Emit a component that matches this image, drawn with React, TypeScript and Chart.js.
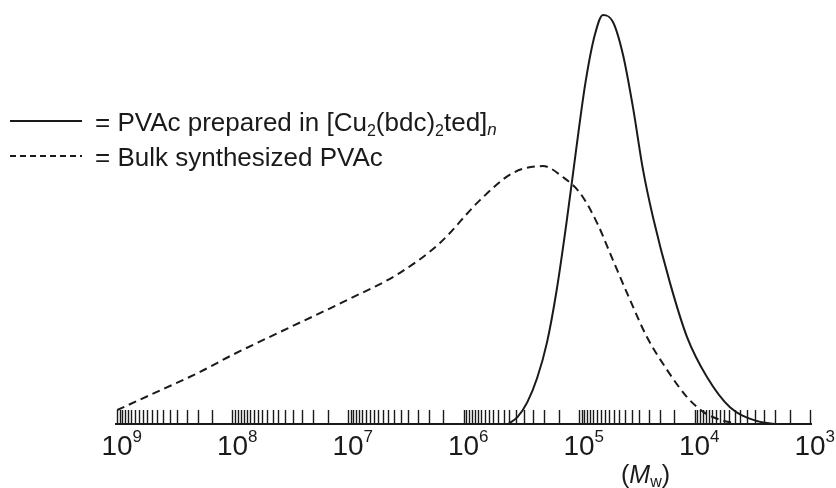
import React, { useEffect, useRef } from "react";
import { Chart, registerables } from "chart.js";

Chart.register(...registerables);

// Molecular weight (x) and normalized detector response (y)
const solidM = [4.1e5, 3.4e5, 2.8e5, 2.3e5, 1.89e5, 1.56e5, 1.28e5, 1.06e5, 8.8e4, 7.3e4, 6.2e4, 5.08e4, 4.16e4, 3.4e4, 2.79e4, 2.29e4, 1.63e4, 1.16e4, 7.8e3, 4.93e3, 2.88e3, 2.01e3];
const solidY = [0.0, 0.017, 0.052, 0.11, 0.195, 0.319, 0.481, 0.652, 0.812, 0.926, 0.974, 0.957, 0.879, 0.752, 0.605, 0.493, 0.336, 0.207, 0.112, 0.04, 0.007, 0.0];

const dashedM = [1e9, 5.18e8, 1.91e8, 1.01e8, 3.88e7, 1.02e7, 3.55e6, 1.6e6, 7.2e5, 3.72e5, 2.05e5, 1.38e5, 9.8e4, 6.98e4, 5.08e4, 3.61e4, 2.58e4, 1.73e4, 1.16e4, 8.4e3, 6.0e3, 4.47e3];
const dashedY = [0.033, 0.069, 0.124, 0.164, 0.219, 0.295, 0.36, 0.431, 0.533, 0.598, 0.614, 0.588, 0.55, 0.479, 0.39, 0.295, 0.207, 0.129, 0.064, 0.029, 0.01, 0.002];

const decadeExponents = [9, 8, 7, 6, 5, 4, 3];
const minorMultipliers = [1.5, 2, 2.5, 3, 3.5, 4, 4.5, 5, 5.5, 6, 6.5, 7, 7.5, 8, 8.5, 9, 9.5];

const legendSolid = "PVAc prepared in [Cu₂(bdc)₂ted]ₙ";
const legendDashed = "Bulk synthesized PVAc";

const FONT = "'Liberation Sans', Arial, sans-serif";
const INK = "#1a1a1a";

type Seg = { t: string; size: number; dy?: number; italic?: boolean };

function drawRich(ctx: CanvasRenderingContext2D, x: number, y: number, segs: Seg[]) {
  let cx = x;
  for (const s of segs) {
    ctx.font = `${s.italic ? "italic " : ""}${s.size}px ${FONT}`;
    ctx.fillText(s.t, cx, y + (s.dy || 0));
    cx += ctx.measureText(s.t).width;
  }
  return cx;
}

const overlay = {
  id: "overlay",
  afterDraw(chart: any) {
    const ctx: CanvasRenderingContext2D = chart.ctx;
    const xs = chart.scales.x;
    const area = chart.chartArea;
    const yb = area.bottom;
    ctx.save();
    ctx.strokeStyle = INK;
    ctx.fillStyle = INK;
    // axis line
    ctx.lineWidth = 2;
    ctx.beginPath();
    ctx.moveTo(area.left - 2, yb);
    ctx.lineTo(area.right + 2, yb);
    ctx.stroke();
    // ticks
    ctx.lineWidth = 1.4;
    const tickVals: number[] = [];
    for (const e of decadeExponents) {
      tickVals.push(Math.pow(10, e));
      if (e < 9) for (const m of minorMultipliers) tickVals.push(m * Math.pow(10, e));
    }
    ctx.beginPath();
    for (const v of tickVals) {
      const px = Math.round(xs.getPixelForValue(v)) + 0.5;
      ctx.moveTo(px, yb);
      ctx.lineTo(px, yb - 14);
    }
    ctx.stroke();
    // tick labels
    ctx.textBaseline = "alphabetic";
    for (const e of decadeExponents) {
      const px = xs.getPixelForValue(Math.pow(10, e));
      ctx.font = `28px ${FONT}`;
      const w = ctx.measureText("10").width;
      ctx.fillText("10", px - w / 2, 455);
      ctx.font = `17px ${FONT}`;
      ctx.fillText(String(e), px + w / 2, 442);
    }
    // x title (Mw)
    drawRich(ctx, 621, 483, [
      { t: "(", size: 25 },
      { t: "M", size: 25, italic: true },
      { t: "w", size: 16, dy: 4 },
      { t: ")", size: 25 },
    ]);
    // legend
    ctx.lineWidth = 2;
    ctx.beginPath();
    ctx.moveTo(10, 121);
    ctx.lineTo(82, 121);
    ctx.stroke();
    ctx.setLineDash([6, 4]);
    ctx.beginPath();
    ctx.moveTo(10, 156);
    ctx.lineTo(82, 156);
    ctx.stroke();
    ctx.setLineDash([]);
    const parts = legendSolid.split(/([₂ₙ])/);
    const segs: Seg[] = [{ t: "= ", size: 26 }];
    for (const p of parts) {
      if (!p) continue;
      if (p === "₂") segs.push({ t: "2", size: 16, dy: 5 });
      else if (p === "ₙ") segs.push({ t: "n", size: 17, dy: 4, italic: true });
      else segs.push({ t: p, size: 26 });
    }
    drawRich(ctx, 95, 131, segs);
    drawRich(ctx, 95, 166, [{ t: "= " + legendDashed, size: 26 }]);
    ctx.restore();
  },
};

export default function App() {
  const ref = useRef<HTMLCanvasElement | null>(null);
  useEffect(() => {
    if (!ref.current) return;
    const chart = new Chart(ref.current, {
      type: "line",
      data: {
        datasets: [
          {
            label: legendSolid,
            data: solidM.map((m, i) => ({ x: m, y: solidY[i] })),
            borderColor: INK,
            borderWidth: 2,
            pointRadius: 0,
            cubicInterpolationMode: "monotone",
            fill: false,
          },
          {
            label: legendDashed,
            data: dashedM.map((m, i) => ({ x: m, y: dashedY[i] })),
            borderColor: INK,
            borderWidth: 2,
            borderDash: [8, 5],
            pointRadius: 0,
            cubicInterpolationMode: "monotone",
            fill: false,
          },
        ],
      },
      options: {
        responsive: false,
        animation: false,
        layout: { padding: { left: 117, right: 26, top: 4, bottom: 64 } },
        plugins: { legend: { display: false }, tooltip: { enabled: false } },
        scales: {
          x: { type: "logarithmic", min: 1e3, max: 1e9, reverse: true, display: false },
          y: { type: "linear", min: 0, max: 1, display: false },
        },
        elements: { line: { tension: 0.4 } },
      },
      plugins: [overlay],
    } as any);
    return () => chart.destroy();
  }, []);
  return (
    <div style={{ position: "fixed", left: 0, top: 0, width: 836, height: 488, background: "#fff" }}>
      <canvas ref={ref} width={836} height={488} style={{ display: "block" }} />
    </div>
  );
}
